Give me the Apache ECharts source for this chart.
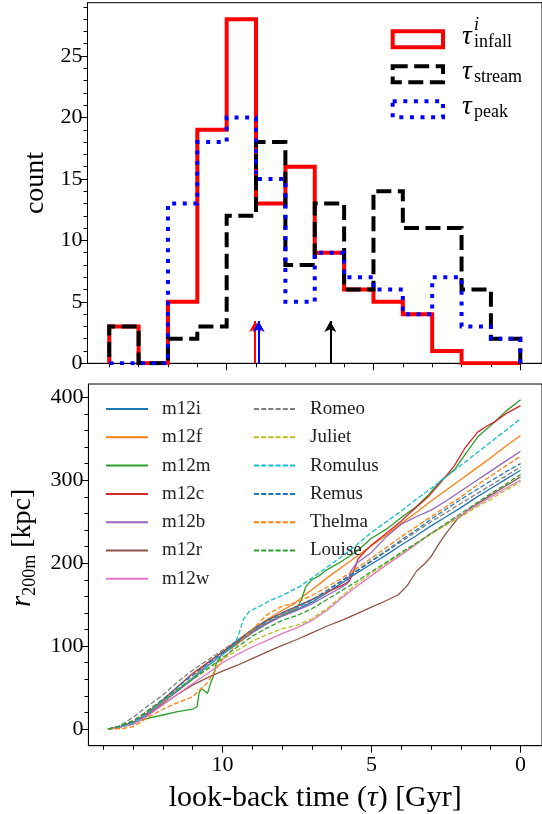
<!DOCTYPE html>
<html><head><meta charset="utf-8">
<script src="https://cdn.jsdelivr.net/npm/echarts@6/dist/echarts.min.js"></script>
<style>html,body{margin:0;padding:0;background:#fff}#c{width:542px;height:814px}</style>
</head><body><div id="c"></div>
<script>
const FONT = 'Liberation Serif';

// ---------- top panel: histograms (bins of 1 Gyr, t from 0 to 14) ----------
const binEdges = [0,1,2,3,4,5,6,7,8,9,10,11,12,13,14];
const infallCounts = [0,0,1,4,5,6,9,16,13,28,19,5,0,3];
const streamCounts = [2,6,11,11,14,6,13,8,18,12,3,2,0,3];
const peakCounts   = [2,3,7,4,6,7,9,5,15,20,18,13,0,0];
const medianInfall = 9.03, medianStream = 6.47, medianPeak = 8.91;
const arrowTop = 3.45;

// ---------- bottom panel: r200m [kpc] vs look-back time [Gyr] ----------
const m12i = [[13.84,0],[13.5,2],[13,7],[12.5,18],[12,32],[11.5,46],[11,60],[10.5,76],[10,90],[9.5,104],[9,118],[8.5,128],[8,137],[7.5,144],[7,153],[6.5,164],[6,176],[5.5,188],[5,199],[4.5,210],[4,222],[3.5,233],[3,245],[2.5,256],[2,267],[1.5,279],[1,290],[0.5,301],[0,312]];
const m12f = [[13.84,0],[13.5,2],[13,6],[12.5,18],[12,32],[11.5,47],[11,62],[10.5,80],[10,93],[9.5,107],[9,120],[8.5,132],[8,143],[7.6,151],[7.3,160],[7,168],[6.5,182],[6,195],[5.5,208],[5,221],[4.5,234],[4,248],[3.5,261],[3,275],[2.5,288],[2,301],[1.5,314],[1,327],[0.5,341],[0,354]];
const m12m = [[13.84,0],[13.5,2],[13,8],[12.5,13],[12,17],[11.5,21],[11,24],[10.85,27],[10.78,44],[10.7,49],[10.6,46],[10.5,43],[10.4,55],[10.3,64],[10.2,80],[10,91],[9.5,104],[9,117],[8.5,127],[8,137],[7.5,146],[7.35,156],[7.2,172],[7,180],[6.75,185],[6.5,192],[6.1,200],[5.5,214],[5,230],[4.5,241],[4,255],[3.5,268],[3.1,282],[2.66,300],[2.21,313],[1.88,330],[1.44,352],[0.88,370],[0.5,383],[0,397]];
const m12c = [[13.84,0],[13.5,2],[13,8],[12.5,20],[12,35],[11.5,51],[11,67],[10.5,80],[10,93],[9.5,106],[9,120],[8.5,131],[8,140],[7.5,148],[7,156],[6.5,165],[6,173],[5.75,178],[5.6,190],[5.45,205],[5.2,215],[5,222],[4.5,236],[4,251],[3.6,264],[3.1,280],[2.66,298],[2.21,318],[1.88,338],[1.44,358],[1.1,366],[0.88,370],[0.5,380],[0,390]];
const m12b = [[13.84,0],[13.5,2],[13,7],[12.5,18],[12,33],[11.5,47],[11,61],[10.5,77],[10,90],[9.5,103],[9,116],[8.5,127],[8,136],[7.5,143],[7,151],[6.5,161],[6,171],[5.8,176],[5.7,190],[5.5,200],[5,213],[4.5,232],[4,247],[3.5,256],[3,264],[2.5,275],[2,287],[1.5,299],[1,311],[0.5,323],[0,335]];
const m12r = [[13.84,0],[13.5,2],[13,6],[12.5,17],[12,30],[11.5,42],[11,53],[10.5,62],[10,70],[9.5,77],[9,85],[8.5,93],[8,101],[7.5,108],[7,116],[6.5,124],[6,131],[5.5,139],[5,147],[4.5,155],[4.1,162],[3.8,173],[3.5,190],[3.2,200],[3,208],[2.8,220],[2.5,236],[2.1,254],[1.7,266],[1,282],[0.5,293],[0,304]];
const m12w = [[13.84,0],[13.5,2],[13,6],[12.5,16],[12,29],[11.5,42],[11,55],[10.5,67],[10,80],[9.5,90],[9,99],[8.5,107],[8,115],[7.5,122],[7,131],[6.5,143],[6,158],[5.5,172],[5,185],[4.5,198],[4,210],[3.5,223],[3,236],[2.5,247],[2,258],[1.5,269],[1,280],[0.5,290],[0,300]];
const Romeo = [[13.84,0],[13.5,3],[13,14],[12.5,28],[12,41],[11.5,57],[11,71],[10.5,83],[10,95],[9.5,107],[9,119],[8.5,129],[8,138],[7.5,146],[7,155],[6.5,166],[6,178],[5.5,190],[5,202],[4.5,214],[4,226],[3.5,238],[3,250],[2.5,261],[2,272],[1.5,283],[1,294],[0.5,305],[0,316]];
const Juliet = [[13.84,0],[13.5,3],[13,10],[12.5,22],[12,35],[11.5,48],[11,60],[10.5,72],[10,84],[9.5,95],[9,106],[8.5,114],[8,121],[7.5,125],[7,133],[6.5,145],[6,160],[5.5,175],[5,188],[4.5,200],[4,212],[3.5,224],[3,235],[2.5,246],[2,256],[1.5,267],[1,277],[0.5,288],[0,298]];
const Romulus = [[13.84,0],[13.5,2],[13,7],[12.5,19],[12,34],[11.5,48],[11,62],[10.5,76],[10,90],[9.6,100],[9.45,115],[9.3,132],[9.1,142],[8.75,148],[8.4,155],[8,161],[7.4,172],[7,182],[6.5,195],[6,208],[5.5,222],[5,237],[4.5,250],[4,263],[3.5,277],[3,290],[2.5,304],[2,318],[1.5,332],[1,346],[0.5,360],[0,374]];
const Remus = [[13.84,0],[13.5,3],[13,9],[12.5,22],[12,36],[11.5,51],[11,65],[10.5,79],[10,92],[9.5,106],[9,120],[8.5,131],[8,140],[7.5,148],[7,156],[6.5,167],[6,179],[5.5,191],[5,203],[4.5,215],[4,228],[3.5,240],[3,253],[2.5,265],[2,277],[1.5,288],[1,299],[0.5,310],[0,320]];
const Thelma = [[13.84,0],[13.3,1],[13,3],[12.5,14],[12,24],[11.5,32],[11,39],[10.5,56],[10.25,70],[10,84],[9.5,102],[9,120],[8.5,138],[8,148],[7.5,153],[7,161],[6.5,171],[6,182],[5.5,194],[5,206],[4.5,219],[4,232],[3.5,244],[3,256],[2.5,268],[2,280],[1.5,293],[1,305],[0.5,317],[0,329]];
const Louise = [[13.84,0],[13.5,3],[13,10],[12.5,22],[12,35],[11.5,48],[11,60],[10.5,73],[10,86],[9.5,99],[9,112],[8.5,122],[8,131],[7.5,137],[7,145],[6.5,156],[6,167],[5.5,178],[5,190],[4.5,201],[4,213],[3.5,224],[3,236],[2.5,248],[2,260],[1.5,272],[1,284],[0.5,295],[0,307]];

const solidNames = ['m12i','m12f','m12m','m12c','m12b','m12r','m12w'];
const solidData  = [m12i, m12f, m12m, m12c, m12b, m12r, m12w];
const solidColors = ['#1f77b4','#ff7f0e','#2ca02c','#d62728','#9467bd','#8c564b','#e377c2'];
const dashNames = ['Romeo','Juliet','Romulus','Remus','Thelma','Louise'];
const dashData  = [Romeo, Juliet, Romulus, Remus, Thelma, Louise];
const dashColors = ['#7f7f7f','#bcbd22','#17becf','#1f77b4','#ff7f0e','#2ca02c'];

// tick labels
const xMajorTicks = [0,5,10];
const xMinorTicks = [0,1,2,3,4,5,6,7,8,9,10,11,12,13,14];
const countMajorTicks = [0,5,10,15,20,25];
const countMinorTicks = Array.from({length:30},(_, i)=>i);
const rMajorTicks = [0,100,200,300,400];
const rMinorTicks = Array.from({length:21},(_, i)=>i*20);

function stepPath(edges, counts){
  const pts = [[edges[0],0]];
  counts.forEach((c,i)=>{ pts.push([edges[i],c]); pts.push([edges[i+1],c]); });
  pts.push([edges[edges.length-1],0]);
  return pts;
}

const chart = echarts.init(document.getElementById('c'), null, {renderer:'canvas'});
const tickLab = {fontFamily:FONT, fontSize:22, color:'#000'};
function xAx(grid, min, max, major, labels, extra){
  return Object.assign({
    gridIndex:grid, type:'value', inverse:true, min:min, max:max, position:'bottom',
    axisLine:{show:true,onZero:false,lineStyle:{color:'#000',width:1}},
    axisTick:{show:true,customValues:major,length:7,lineStyle:{color:'#000',width:1}},
    axisLabel:labels ? Object.assign({show:true,customValues:labels,margin:9},tickLab) : {show:false},
    splitLine:{show:false}
  }, extra||{});
}
function yAx(grid, min, max, major, labels, extra){
  return Object.assign({
    gridIndex:grid, type:'value', min:min, max:max, position:'left',
    axisLine:{show:true,onZero:false,lineStyle:{color:'#000',width:1}},
    axisTick:{show:true,customValues:major,length:7,lineStyle:{color:'#000',width:1}},
    axisLabel:labels ? Object.assign({show:true,customValues:labels,margin:5},tickLab) : {show:false},
    splitLine:{show:false}
  }, extra||{});
}
function minorAx(base){
  base.axisLine = {show:false,onZero:false};
  base.axisTick.length = 4;
  return base;
}

const series = [];
const histDefs = [
  {name:'infall', counts:infallCounts, color:'#ff0000', dash:'solid', med:medianInfall},
  {name:'stream', counts:streamCounts, color:'#000000', dash:[15,6.5], med:medianStream},
  {name:'peak', counts:peakCounts, color:'#0000ff', dash:[4,6.6], med:medianPeak}
];
histDefs.forEach(h=>{
  series.push({
    type:'line', name:h.name, xAxisIndex:0, yAxisIndex:0,
    data:stepPath(binEdges,h.counts), symbol:'none', showSymbol:false,
    lineStyle:{color:h.color,width:4,type:h.dash,join:'miter',cap:'butt'},
    silent:true, z:3,
    markLine:{silent:true, symbol:['none','arrow'], symbolSize:[9,11], label:{show:false},
      lineStyle:{color:h.color,width:2,type:'solid'},
      data:[[{coord:[h.med,0]},{coord:[h.med,arrowTop]}]]}
  });
});
solidNames.forEach((n,i)=>{
  series.push({type:'line',name:n,xAxisIndex:2,yAxisIndex:2,data:solidData[i],symbol:'none',showSymbol:false,
    lineStyle:{color:solidColors[i],width:1.3,type:'solid'},itemStyle:{color:solidColors[i]},silent:true});
});
dashNames.forEach((n,i)=>{
  series.push({type:'line',name:n,xAxisIndex:2,yAxisIndex:2,data:dashData[i],symbol:'none',showSymbol:false,
    lineStyle:{color:dashColors[i],width:1.3,type:[5,2.2]},itemStyle:{color:dashColors[i]},silent:true});
});

const legText = {fontFamily:FONT,fontSize:19,color:'#222',padding:[0,0,0,9]};
function legend(names,left){
  return {data:names, orient:'vertical', left:left, top:399, padding:0, itemWidth:42, itemHeight:14,
    itemGap:8.3, itemStyle:{opacity:0}, textStyle:Object.assign({lineHeight:20},legText), selectedMode:false};
}

const legendRects = [
  {y:31.3, color:'#ff0000', dash:null, sub:'infall', sup:'i'},
  {y:66.3, color:'#000000', dash:[15,6.5], sub:'stream', sup:''},
  {y:101.3, color:'#0000ff', dash:[4,6.6], sub:'peak', sup:''}
];
const graphics = [];
legendRects.forEach(r=>{
  graphics.push({type:'rect', shape:{x:392.7,y:r.y,width:50.3,height:16},
    style:{fill:'none',stroke:r.color,lineWidth:4,lineDash:r.dash,lineJoin:'miter'}});
  graphics.push({type:'text', x:462, y:r.y+6, style:{text:'τ',fontFamily:FONT,fontStyle:'italic',fontSize:27,fill:'#000',verticalAlign:'middle'}});
  graphics.push({type:'text', x:474, y:r.y+11, style:{text:r.sub,fontFamily:FONT,fontSize:18,fill:'#000',verticalAlign:'middle'}});
  if(r.sup) graphics.push({type:'text', x:474, y:r.y-6, style:{text:r.sup,fontFamily:FONT,fontStyle:'italic',fontSize:18,fill:'#000',verticalAlign:'middle'}});
});

chart.setOption({
  animation:false,
  backgroundColor:'#fff',
  grid:[
    {left:87.5, top:2.7, width:458, height:360.6, show:true, borderColor:'#000', borderWidth:1, containLabel:false},
    {left:87.5, top:384, width:458, height:361.7, show:true, borderColor:'#000', borderWidth:1, containLabel:false}
  ],
  xAxis:[
    xAx(0,-0.74,14.74,xMajorTicks,null),
    minorAx(xAx(0,-0.74,14.74,xMinorTicks,null)),
    xAx(1,-0.72,14.495,xMajorTicks,xMajorTicks,{name:'look-back time ({t|τ}) [Gyr]',nameLocation:'middle',nameGap:37,
      nameTextStyle:{fontFamily:FONT,fontSize:30,color:'#000',rich:{
        t:{fontFamily:FONT,fontStyle:'italic',fontSize:30,color:'#000'}}}}),
    minorAx(xAx(1,-0.72,14.495,xMinorTicks,null))
  ],
  yAxis:[
    yAx(0,0,29.34,countMajorTicks,countMajorTicks,{name:'count',nameLocation:'middle',nameGap:38,nameRotate:90,
      nameTextStyle:{fontFamily:FONT,fontSize:28,color:'#000'}}),
    minorAx(yAx(0,0,29.34,countMinorTicks,null)),
    yAx(1,-20,416,rMajorTicks,rMajorTicks,{name:'{i|r}{s|200m}{n| [kpc]}',nameLocation:'middle',nameGap:48,nameRotate:90,
      nameTextStyle:{fontFamily:FONT,fontSize:28,color:'#000',padding:[0,0,0,34],rich:{
        i:{fontFamily:FONT,fontStyle:'italic',fontSize:29,lineHeight:34,verticalAlign:'middle',color:'#000'},
        s:{fontFamily:FONT,fontSize:18,lineHeight:34,verticalAlign:'bottom',color:'#000'},
        n:{fontFamily:FONT,fontSize:28,lineHeight:34,verticalAlign:'middle',color:'#000'}}}}),
    minorAx(yAx(1,-20,416,rMinorTicks,null))
  ],
  legend:[legend(solidNames,105), legend(dashNames,253)],
  graphic:graphics,
  series:series
});
</script></body></html>
